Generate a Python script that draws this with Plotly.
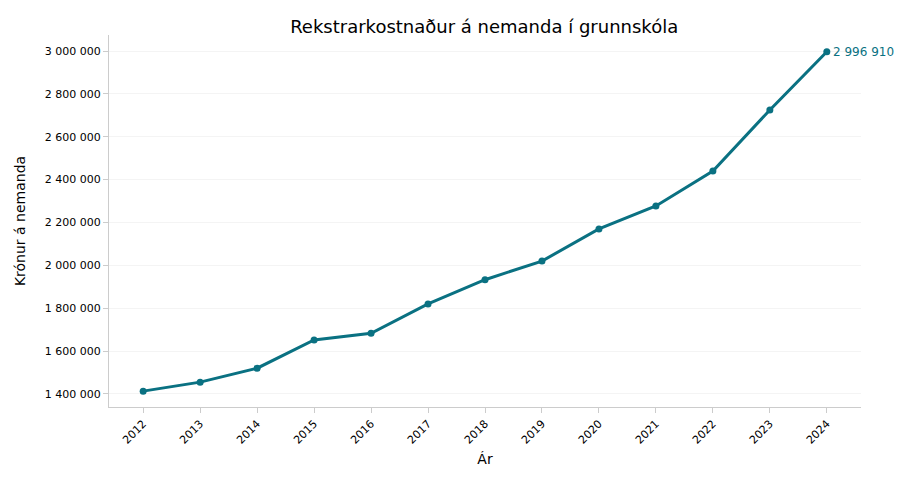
import plotly.graph_objects as go

years = [2012, 2013, 2014, 2015, 2016, 2017, 2018, 2019, 2020, 2021, 2022, 2023, 2024]
cost = [1413000, 1455000, 1520000, 1652000, 1683000, 1820000, 1933000,
        2020000, 2170000, 2277000, 2440000, 2725000, 2996910]
ytick_vals = [1400000, 1600000, 1800000, 2000000, 2200000, 2400000, 2600000, 2800000, 3000000]
ytick_text = [f"{v:,}".replace(",", " ") for v in ytick_vals]

color = "#0a7182"

fig = go.Figure(go.Scatter(
    x=years, y=cost, mode="lines+markers",
    line=dict(color=color, width=3),
    marker=dict(color=color, size=7),
    hoverinfo="skip",
))

fig.add_annotation(
    x=years[-1], y=cost[-1], text=f"{cost[-1]:,}".replace(",", " "),
    showarrow=False, xanchor="left", xshift=4,
    font=dict(color=color, size=12),
)

# page has an 8px body margin, so shift everything up/left by 8px
fig.update_layout(
    width=907, height=480,
    margin=dict(l=96, r=54, t=27, b=81),
    plot_bgcolor="white", paper_bgcolor="white",
    font=dict(family="DejaVu Sans", color="black", size=11),
    title=dict(text="Rekstrarkostnaður á nemanda í grunnskóla", x=0.525, y=0.975,
               xanchor="center", yanchor="top", font=dict(size=18)),
    showlegend=False,
)
fig.update_xaxes(
    title=dict(text="Ár", font=dict(size=14), standoff=8),
    tickvals=years, tickangle=-45, range=[2011.4, 2024.6],
    showline=True, linecolor="#cccccc", ticks="outside", tickcolor="#cccccc",
    showgrid=False, zeroline=False,
)
fig.update_yaxes(
    title=dict(text="Krónur á nemanda", font=dict(size=14)),
    tickvals=ytick_vals, ticktext=ytick_text, range=[1339000, 3075000],
    showline=True, linecolor="#cccccc", ticks="outside", tickcolor="#cccccc",
    showgrid=True, gridcolor="#f4f4f4", zeroline=False,
)

fig.write_html("out.html")
